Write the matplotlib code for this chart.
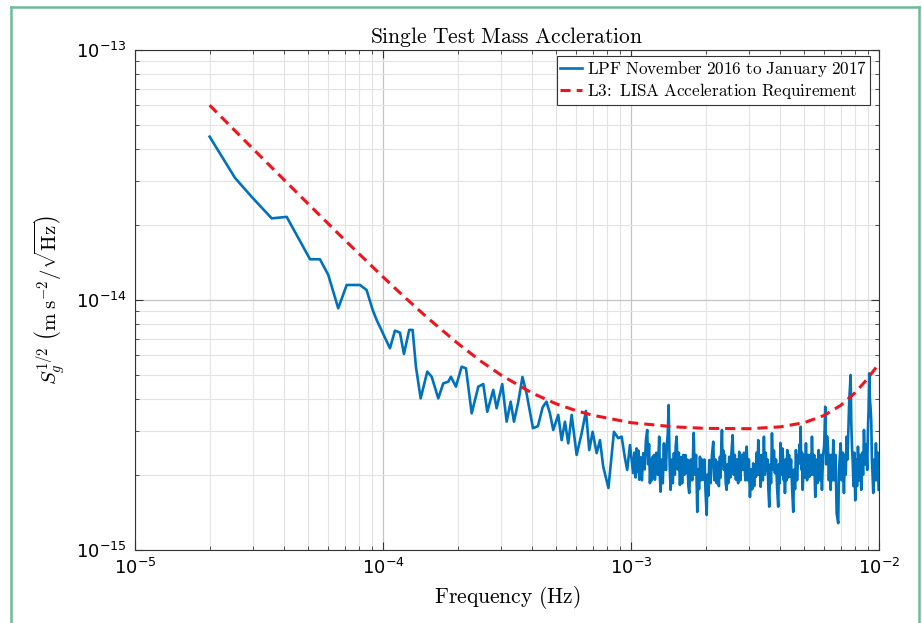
import matplotlib
matplotlib.use("Agg")
import matplotlib.pyplot as plt
from matplotlib.lines import Line2D
from matplotlib.ticker import LogLocator, NullFormatter
import numpy as np

# LPF measured acceleration noise (freq in mHz, ASD in 1e-15 m s^-2 / sqrt(Hz))
lpf_freq_mhz = [
    0.0200, 0.0253, 0.0295, 0.0356, 0.0409, 0.0508, 0.0557, 0.0602, 0.0660, 0.0714,
    0.0808, 0.0859, 0.0909, 0.0943, 0.1067, 0.1118, 0.1171, 0.1215, 0.1276, 0.1317,
    0.1358, 0.1419, 0.1509, 0.1572, 0.1671, 0.1750, 0.1834, 0.1879, 0.1969, 0.2076,
    0.2161, 0.2279, 0.2423, 0.2538, 0.2634, 0.2784, 0.2873, 0.3027, 0.3153, 0.3273,
    0.3375, 0.3512, 0.3652, 0.3797, 0.4026, 0.4217, 0.4404, 0.4562, 0.4713, 0.4859,
    0.5090, 0.5254, 0.5418, 0.5587, 0.5766, 0.6039, 0.6327, 0.6585, 0.6789, 0.7007,
    0.7272, 0.7499, 0.7733, 0.8113, 0.8538, 0.8886, 0.9171, 0.9458, 0.9660, 0.9906,
    1.021, 1.032, 1.043, 1.054, 1.063, 1.071, 1.080, 1.094, 1.107, 1.121,
    1.135, 1.149, 1.163, 1.173, 1.183, 1.193, 1.203, 1.213, 1.223, 1.232,
    1.240, 1.249, 1.266, 1.283, 1.300, 1.308, 1.317, 1.331, 1.344, 1.358,
    1.367, 1.375, 1.384, 1.396, 1.407, 1.419, 1.432, 1.445, 1.460, 1.475,
    1.490, 1.503, 1.515, 1.528, 1.544, 1.560, 1.576, 1.592, 1.608, 1.625,
    1.642, 1.660, 1.677, 1.690, 1.704, 1.718, 1.742, 1.766, 1.790, 1.810,
    1.830, 1.851, 1.867, 1.882, 1.898, 1.918, 1.937, 1.957, 1.978, 1.999,
    2.020, 2.036, 2.052, 2.069, 2.095, 2.121, 2.147, 2.170, 2.193, 2.216,
    2.239, 2.262, 2.285, 2.299, 2.313, 2.328, 2.342, 2.357, 2.371, 2.391,
    2.411, 2.431, 2.451, 2.470, 2.490, 2.517, 2.543, 2.570, 2.597, 2.623,
    2.650, 2.678, 2.705, 2.733, 2.762, 2.792, 2.821, 2.857, 2.892, 2.928,
    2.958, 2.989, 3.019, 3.050, 3.081, 3.112, 3.139, 3.165, 3.192, 3.215,
    3.238, 3.261, 3.285, 3.310, 3.334, 3.368, 3.403, 3.437, 3.466, 3.496,
    3.525, 3.554, 3.582, 3.611, 3.642, 3.672, 3.703, 3.738, 3.772, 3.807,
    3.846, 3.886, 3.925, 3.952, 3.980, 4.007, 4.042, 4.078, 4.113, 4.135,
    4.156, 4.178, 4.208, 4.238, 4.268, 4.304, 4.340, 4.376, 4.421, 4.467,
    4.512, 4.550, 4.589, 4.627, 4.675, 4.723, 4.771, 4.792, 4.812, 4.833,
    4.863, 4.894, 4.924, 4.975, 5.027, 5.078, 5.131, 5.183, 5.236, 5.280,
    5.325, 5.369, 5.425, 5.480, 5.536, 5.595, 5.654, 5.713, 5.772, 5.832,
    5.891, 5.952, 6.013, 6.074, 6.126, 6.177, 6.229, 6.282, 6.334, 6.387,
    6.439, 6.491, 6.543, 6.613, 6.682, 6.752, 6.852, 6.904, 6.955, 7.007,
    7.080, 7.152, 7.225, 7.286, 7.347, 7.408, 7.469, 7.530, 7.590, 7.688,
    7.736, 7.785, 7.833, 7.897, 7.960, 8.024, 8.093, 8.161, 8.230, 8.315,
    8.401, 8.486, 8.558, 8.630, 8.701, 8.791, 8.880, 8.970, 9.025, 9.081,
    9.137, 9.195, 9.252, 9.309, 9.367, 9.426, 9.484, 9.564, 9.645, 9.725,
    9.805, 9.885, 9.970,
]
lpf_asd_e15 = [
    45.0, 30.8, 25.9, 21.2, 21.5, 14.55, 14.55, 12.59, 9.26, 11.48,
    11.48, 10.96, 9.12, 8.32, 6.41, 7.54, 7.40, 6.08, 7.59, 7.59,
    5.41, 4.04, 5.17, 4.93, 4.04, 4.64, 4.71, 4.93, 4.50, 5.41,
    5.33, 3.52, 4.50, 4.61, 3.57, 4.37, 3.69, 4.61, 3.26, 3.92,
    3.26, 3.91, 4.92, 4.21, 3.07, 3.13, 3.72, 3.92, 3.52, 3.02,
    3.47, 2.75, 3.26, 2.67, 3.47, 2.40, 2.93, 3.60, 2.51, 2.97,
    2.44, 2.75, 2.15, 1.77, 2.97, 2.80, 2.84, 2.33, 2.09, 2.63,
    2.03, 2.45, 1.95, 2.55, 2.05, 2.50, 1.91, 2.35, 1.90, 2.44,
    2.10, 2.75, 3.02, 2.20, 2.65, 1.85, 2.30, 1.90, 2.36, 1.95,
    2.40, 1.91, 2.45, 2.00, 2.84, 1.95, 1.71, 2.30, 1.85, 2.67,
    2.10, 2.50, 2.09, 2.65, 2.90, 3.80, 2.20, 1.74, 2.30, 1.85,
    2.44, 2.00, 2.60, 2.84, 2.10, 2.45, 1.82, 2.35, 1.85, 2.40,
    2.00, 2.40, 2.03, 2.30, 1.80, 1.69, 2.30, 1.90, 2.94, 2.00,
    2.40, 1.42, 2.10, 1.75, 2.36, 1.90, 2.30, 1.91, 2.30, 1.70,
    1.38, 2.00, 1.65, 2.29, 1.85, 2.40, 2.71, 1.90, 2.30, 1.85,
    2.25, 1.80, 2.36, 1.95, 2.55, 3.02, 2.20, 2.50, 2.09, 2.40,
    1.85, 1.74, 2.20, 1.85, 2.36, 1.95, 2.45, 2.88, 2.00, 2.40,
    1.91, 2.30, 1.85, 2.47, 1.90, 2.40, 2.09, 2.45, 1.90, 2.59,
    1.90, 2.30, 1.63, 2.10, 1.75, 2.22, 1.80, 2.20, 1.96, 2.45,
    2.00, 2.75, 2.00, 2.40, 1.79, 2.40, 1.90, 2.84, 2.00, 2.45,
    2.09, 2.30, 1.75, 1.49, 2.20, 1.85, 2.93, 2.10, 2.50, 2.03,
    2.30, 1.75, 1.49, 2.20, 1.85, 2.68, 2.00, 2.55, 2.29, 1.90,
    2.25, 1.69, 2.30, 1.90, 2.51, 1.95, 2.40, 1.96, 2.30, 1.75,
    1.42, 2.10, 1.75, 2.51, 1.90, 2.40, 2.22, 2.65, 2.30, 3.11,
    2.10, 2.45, 1.74, 2.40, 1.95, 2.67, 1.90, 2.40, 1.96, 2.40,
    2.00, 2.84, 2.00, 2.40, 1.63, 2.30, 1.85, 2.51, 1.90, 2.40,
    1.74, 2.40, 2.60, 3.74, 2.20, 2.85, 2.59, 1.90, 2.40, 1.74,
    2.40, 1.90, 2.75, 1.90, 2.40, 1.40, 1.28, 2.10, 2.35, 2.67,
    1.90, 2.45, 1.69, 2.40, 2.00, 2.84, 2.30, 3.00, 3.98, 5.01,
    3.20, 2.60, 2.29, 1.80, 2.45, 1.58, 2.30, 1.80, 2.59, 1.90,
    2.40, 1.74, 2.45, 2.00, 3.02, 2.20, 2.65, 2.09, 3.00, 3.60,
    5.09, 4.00, 3.70, 3.31, 2.30, 2.00, 1.69, 2.30, 1.90, 2.67,
    1.90, 2.45, 1.74,
]

# L3 LISA acceleration requirement
req_freq_mhz = [0.02, 0.03, 0.05, 0.07, 0.1, 0.12, 0.15, 0.2, 0.25, 0.3, 0.4, 0.5,
                0.6, 0.7, 1.0, 1.5, 2.0, 3.0, 4.0, 5.0, 6.0, 7.0, 8.0, 9.0, 10.0]
req_asd_e15 = [60.1, 40.1, 24.2, 17.4, 12.37, 10.44, 8.54, 6.71, 5.66, 5.00, 4.24, 3.84,
               3.61, 3.46, 3.23, 3.107, 3.065, 3.056, 3.108, 3.231, 3.450, 3.784, 4.248,
               4.844, 5.57]

plt.rcParams['mathtext.fontset'] = 'dejavusans'

fig = plt.figure(figsize=(9.22, 6.23), dpi=100)
ax = fig.add_axes([0.1464, 0.1172, 0.8069, 0.8026])

ax.loglog(np.array(lpf_freq_mhz) * 1e-3, np.array(lpf_asd_e15) * 1e-15,
          color='#0072BD', lw=1.9, label=r'$\mathrm{LPF\ November\ 2016\ to\ January\ 2017}$')
ax.loglog(np.array(req_freq_mhz) * 1e-3, np.array(req_asd_e15) * 1e-15,
          color='#f0141e', lw=2.2, dashes=(3.3, 2.0),
          label=r'$\mathrm{L3\!:\ LISA\ Acceleration\ Requirement}$')

ax.set_xlim(1e-5, 1e-2)
ax.set_ylim(1e-15, 1e-13)
ax.xaxis.set_major_locator(LogLocator(base=10, numticks=10))
ax.yaxis.set_major_locator(LogLocator(base=10, numticks=10))
ax.xaxis.set_minor_locator(LogLocator(base=10, subs=np.arange(2, 10), numticks=20))
ax.yaxis.set_minor_locator(LogLocator(base=10, subs=np.arange(2, 10), numticks=20))
ax.xaxis.set_minor_formatter(NullFormatter())
ax.yaxis.set_minor_formatter(NullFormatter())

ax.grid(True, which='major', color='#c4c4c4', lw=0.9)
ax.grid(True, which='minor', color='#e3e3e3', lw=0.8)
ax.set_axisbelow(True)
ax.tick_params(which='both', direction='in', top=True, right=True, color='#333333')
ax.tick_params(which='major', length=6, width=0.8, labelsize=13, pad=6)
ax.tick_params(which='minor', length=3, width=0.6, labelbottom=False, labelleft=False)
for s in ax.spines.values():
    s.set_color('#333333')
    s.set_linewidth(0.8)

ax.set_title(r'$\mathrm{Single\ Test\ Mass\ Accleration}$', fontsize=15.5,
             math_fontfamily='cm', pad=5)
ax.set_xlabel(r'$\mathrm{Frequency\ (Hz)}$', fontsize=15.5, math_fontfamily='cm', labelpad=4)
ax.set_ylabel(r'$S_g^{1/2}\ \left(\mathrm{m\;s^{-2}/\sqrt{Hz}}\right)$', fontsize=15,
              math_fontfamily='cm', labelpad=6)

leg = ax.legend(loc='upper right', bbox_to_anchor=(0.988, 0.988), borderaxespad=0,
                fontsize=12.3, fancybox=False, edgecolor='#333333', framealpha=1,
                handlelength=1.3, handletextpad=0.25, borderpad=0.2, labelspacing=0.1)
leg.get_frame().set_linewidth(0.8)
for t in leg.get_texts():
    t.set_math_fontfamily('cm')

# green frame around the figure (left, top, right edges)
frame_kw = dict(transform=fig.transFigure, color='#6dbb98', lw=1.8)
fig.lines.append(Line2D([0.0119, 0.0119], [0.0, 0.9888], **frame_kw))
fig.lines.append(Line2D([0.0119, 0.9967], [0.9888, 0.9888], **frame_kw))
fig.lines.append(Line2D([0.9967, 0.9967], [0.9888, 0.0], **frame_kw))

fig.savefig('out.png', dpi=100)
